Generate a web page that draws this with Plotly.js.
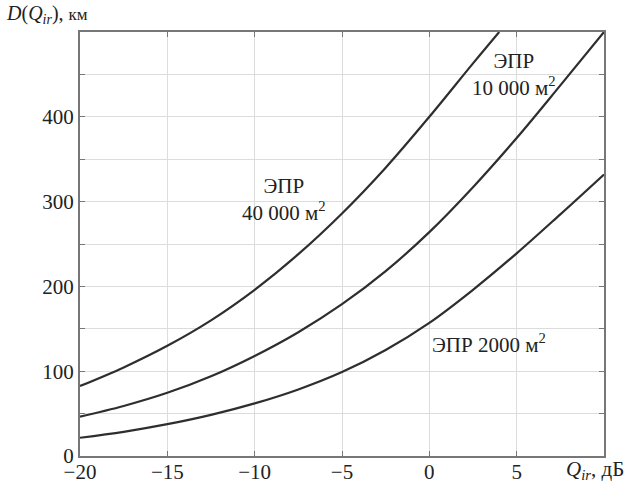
<!DOCTYPE html>
<html>
<head>
<meta charset="utf-8">
<script src="https://cdn.plot.ly/plotly-3.0.1.min.js"></script>
<style>html,body{margin:0;padding:0;background:#fff;}#chart{width:638px;height:483px;}</style>
</head>
<body>
<div id="chart"></div>
<script>
// Q_ir, dB
const qA = [-20, -17.5, -15, -12.5, -10, -7.5, -5, -2.5, 0, 2.5, 4.0];
const d40000 = [82.5, 104.5, 130, 160, 196, 238, 286, 340, 400, 463, 500];
const qB = [-20, -17.5, -15, -12.5, -10, -7.5, -5, -2.5, 0, 2.5, 5, 7.5, 10];
const d10000 = [46.5, 59, 74.5, 94, 118, 146, 179, 218, 264, 317, 375, 437, 500];
const d2000 = [21.5, 28.5, 37.5, 48.5, 62, 78.5, 99, 125, 157, 196, 239, 285, 332];

const xTickVals = [-20, -15, -10, -5, 0, 5];
const xTickText = ['\u221220', '\u221215', '\u221210', '\u22125', '0', '5'];
const yTickVals = [0, 50, 100, 150, 200, 250, 300, 350, 400, 450];
const yTickText = ['0', '', '100', '', '200', '', '300', '', '400', ''];

const labels = [
  {x: -8.3, y: 302, text: 'ЭПР<br>40 000 м<sup>2</sup>'},
  {x: 4.85, y: 450, text: 'ЭПР<br>10 000 м<sup>2</sup>'},
  {x: 3.4, y: 133, text: 'ЭПР 2000 м<sup>2</sup>'}
];

const lineStyle = {color: '#2e2e2e', width: 2.2, shape: 'spline', smoothing: 1};
const traces = [
  {x: qA, y: d40000, mode: 'lines', line: lineStyle, hoverinfo: 'skip'},
  {x: qB, y: d10000, mode: 'lines', line: lineStyle, hoverinfo: 'skip'},
  {x: qB, y: d2000, mode: 'lines', line: lineStyle, hoverinfo: 'skip'}
];

const FAM = 'Liberation Serif, Times New Roman, serif';
const font = {family: FAM, size: 21, color: '#222'};
const tickFont = {family: FAM, size: 21, color: '#222'};
const labelFont = {family: FAM, size: 21, color: '#222'};

const annotations = labels.map(l => ({
  x: l.x, y: l.y, xref: 'x', yref: 'y', text: l.text, showarrow: false,
  font: labelFont, align: 'center', xanchor: 'center', yanchor: 'middle'
}));
annotations.push({
  xref: 'paper', yref: 'paper', x: 0, y: 1, xanchor: 'left', yanchor: 'bottom',
  xshift: -76, yshift: 3, showarrow: false,
  text: '<i>D</i>(<i>Q</i><sub><i>ir</i></sub>), <span style="font-size:17px">км</span>',
  font: {family: FAM, size: 20, color: '#222'}
});
annotations.push({
  xref: 'paper', yref: 'paper', x: 1, y: 0, xanchor: 'left', yanchor: 'top',
  xshift: -40, yshift: 1, showarrow: false,
  text: '<i>Q</i><sub><i>ir</i></sub>, дБ',
  font: font
});

const axisCommon = {
  showgrid: true, gridcolor: '#dcdcdc', gridwidth: 1,
  showline: true, linecolor: '#777', linewidth: 2, mirror: 'ticks',
  ticks: 'inside', ticklen: 5, tickcolor: '#777', tickwidth: 1,
  zeroline: false, tickfont: tickFont, fixedrange: true
};

const layout = {
  width: 638, height: 483,
  margin: {l: 80, r: 34, t: 32, b: 27},
  paper_bgcolor: '#fff', plot_bgcolor: '#fff',
  showlegend: false,
  font: font,
  xaxis: Object.assign({range: [-20, 10], tickvals: xTickVals, ticktext: xTickText, ticklabelstandoff: -4}, axisCommon),
  yaxis: Object.assign({range: [0, 500], tickvals: yTickVals, ticktext: yTickText}, axisCommon),
  annotations: annotations
};

Plotly.newPlot('chart', traces, layout, {displayModeBar: false, staticPlot: true});
</script>
</body>
</html>
